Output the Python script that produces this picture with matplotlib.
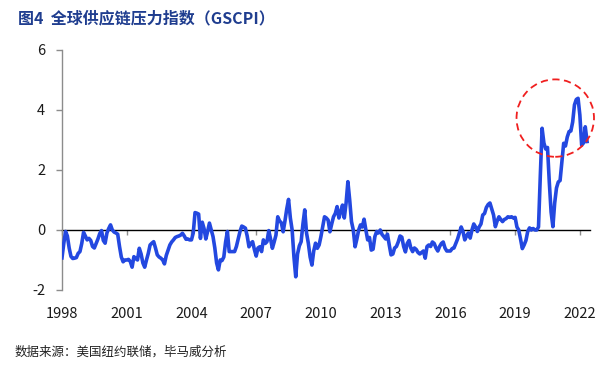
import numpy as np
import matplotlib
matplotlib.use('Agg')
import matplotlib.pyplot as plt
from matplotlib.patches import Ellipse

plt.rcParams['font.family'] = ['Noto Sans CJK SC', 'DejaVu Sans']

title = '图4  全球供应链压力指数（GSCPI）'
source = '数据来源：美国纽约联储，毕马威分析'

start_year = 1998
# GSCPI monthly values, Jan 1998 - May 2022
gscpi = [
    # 1998
    -0.93, -0.45, -0.05, -0.20, -0.60, -0.88, -0.95, -0.94, -0.92, -0.78, -0.72, -0.45,
    # 1999
    -0.08, -0.20, -0.33, -0.28, -0.35, -0.55, -0.60, -0.45, -0.30, -0.12, -0.02, -0.35,
    # 2000
    -0.44, -0.10, 0.05, 0.17, 0.00, -0.07, -0.10, -0.14, -0.55, -0.90, -1.06, -1.00,
    # 2001
    -1.00, -0.98, -1.05, -1.24, -0.89, -0.95, -1.00, -0.61, -0.80, -1.10, -1.24, -1.00,
    # 2002
    -0.78, -0.50, -0.44, -0.39, -0.60, -0.83, -0.90, -0.94, -1.00, -1.13, -0.85, -0.67,
    # 2003
    -0.50, -0.40, -0.33, -0.25, -0.22, -0.20, -0.17, -0.11, -0.20, -0.31, -0.30, -0.33,
    # 2004
    -0.33, -0.10, 0.58, 0.56, 0.53, -0.28, 0.26, 0.05, -0.30, -0.05, 0.23, 0.00,
    # 2005
    -0.22, -0.60, -1.10, -1.33, -1.00, -1.02, -0.90, -0.40, -0.05, -0.72, -0.72, -0.72,
    # 2006
    -0.72, -0.55, -0.30, -0.05, 0.13, 0.10, 0.06, -0.20, -0.56, -0.45, -0.39, -0.65,
    # 2007
    -0.87, -0.60, -0.56, -0.72, -0.33, -0.45, -0.39, -0.02, -0.30, -0.61, -0.40, -0.17,
    # 2008
    0.44, 0.30, 0.24, -0.06, 0.30, 0.70, 1.02, 0.40, 0.00, -0.90, -1.56, -0.80,
    # 2009
    -0.53, -0.39, 0.20, 0.67, -0.10, -0.44, -0.90, -1.17, -0.70, -0.44, -0.61, -0.50,
    # 2010
    -0.22, 0.10, 0.44, 0.40, 0.33, -0.06, 0.20, 0.44, 0.55, 0.78, 0.40, 0.60,
    # 2011
    0.83, 0.40, 0.90, 1.61, 1.00, 0.28, 0.00, -0.56, -0.30, 0.00, 0.17, 0.10,
    # 2012
    0.36, 0.00, -0.33, -0.25, -0.67, -0.64, -0.22, -0.05, -0.10, 0.00, -0.15, -0.22,
    # 2013
    -0.30, -0.14, -0.50, -0.83, -0.80, -0.60, -0.55, -0.40, -0.20, -0.24, -0.55, -0.73,
    # 2014
    -0.45, -0.35, -0.60, -0.72, -0.60, -0.65, -0.75, -0.80, -0.75, -0.70, -0.94, -0.55,
    # 2015
    -0.50, -0.55, -0.40, -0.45, -0.60, -0.70, -0.55, -0.45, -0.40, -0.60, -0.70, -0.70,
    # 2016
    -0.70, -0.62, -0.60, -0.45, -0.30, -0.10, 0.10, -0.05, -0.33, -0.20, -0.10, -0.27,
    # 2017
    0.00, 0.20, 0.10, -0.05, 0.10, 0.20, 0.50, 0.55, 0.75, 0.85, 0.90, 0.70,
    # 2018
    0.50, 0.11, 0.30, 0.44, 0.35, 0.28, 0.35, 0.38, 0.44, 0.42, 0.44, 0.40,
    # 2019
    0.42, 0.10, 0.00, -0.30, -0.62, -0.50, -0.35, -0.05, 0.07, 0.00, 0.05, 0.00,
    # 2020
    0.00, 0.10, 1.80, 3.39, 2.90, 2.70, 2.75, 1.60, 0.60, 0.11, 0.90, 1.40,
    # 2021
    1.60, 1.65, 2.28, 2.89, 2.80, 3.10, 3.28, 3.30, 3.60, 4.17, 4.35, 4.39,
    # 2022
    3.83, 2.83, 2.90, 3.44, 2.95,
]

year_ticks = [1998, 2001, 2004, 2007, 2010, 2013, 2016, 2019, 2022]
y_ticks = [-2, 0, 2, 4, 6]

t = start_year + np.arange(len(gscpi)) / 12.0

fig = plt.figure(figsize=(6.16, 3.66), dpi=100)
ax = fig.add_axes([0.1006, 0.2077, 0.8565, 0.6557])

ax.plot(t, gscpi, color='#2348E0', lw=2.6, solid_joinstyle='round', zorder=3)

ax.set_xlim(1998, 2022.45)
ax.set_ylim(-2, 6)

# zero line acts as the x axis with ticks
ax.spines['bottom'].set_position(('data', 0))
ax.spines['bottom'].set_color('black')
ax.spines['bottom'].set_linewidth(1.0)
ax.spines['bottom'].set_zorder(2)
ax.spines['top'].set_visible(False)
ax.spines['right'].set_visible(False)
ax.spines['left'].set_color('#8c8c8c')
ax.spines['left'].set_linewidth(1.0)

ax.set_xticks(year_ticks)
ax.tick_params(axis='x', direction='out', length=3.5, width=1, color='#8c8c8c',
               labelbottom=False)
ax.set_yticks(y_ticks)
ax.set_yticklabels([str(v) for v in y_ticks])
ax.tick_params(axis='y', direction='out', length=4, width=1, color='#8c8c8c',
               labelsize=10.5, pad=8, labelcolor='#1a1a1a')

# year labels under the plot area
sec = ax.secondary_xaxis('bottom')
sec.set_xticks(year_ticks)
sec.set_xticklabels([str(y) for y in year_ticks])
sec.tick_params(length=0, labelsize=10.5, pad=12, labelcolor='#1a1a1a')
sec.spines['bottom'].set_visible(False)

# red dashed circle around the recent peak
circ = Ellipse((2020.86, 3.73), width=3.59, height=2.58, fill=False,
               edgecolor='#f01f1f', lw=1.3, linestyle=(0, (4, 2.5)),
               clip_on=False, zorder=4)
ax.add_patch(circ)

fig.text(0.03, 0.951, title, fontsize=11.5, fontweight='bold', color='#1F3D8F',
         ha='left', va='center')
fig.text(0.023, 0.038, source, fontsize=9, color='#222222',
         ha='left', va='center')

fig.savefig('out.png', dpi=100)
